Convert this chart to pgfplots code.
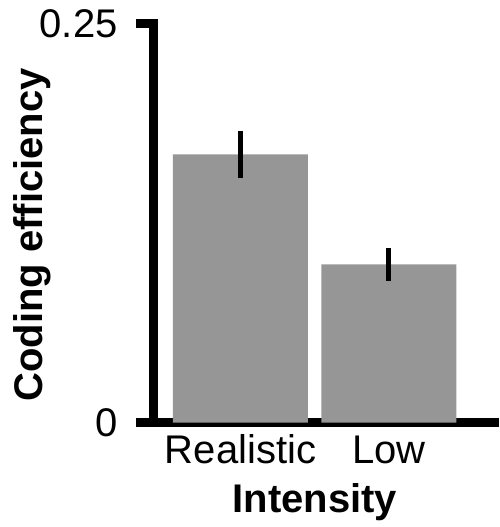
\documentclass[border=0pt]{standalone}
\usepackage{fontspec}
\setmainfont{Liberation Sans}
\usepackage{pgfplots}
\pgfplotsset{compat=1.18}
\definecolor{bargray}{RGB}{150,150,150}
\begin{document}
\begin{tikzpicture}
\begin{axis}[
  scale only axis,
  width=173pt, height=199.5pt,
  xmin=-0.589, xmax=1.741,
  ymin=0, ymax=0.25,
  axis lines*=left,
  axis line style={line width=4.5pt, black},
  y axis line style={line cap=rect},
  xtick={0,1},
  xticklabels={Realistic, Low},
  x tick style={draw=none},
  ytick={0,0.25},
  yticklabels={0, 0.25},
  y tick style={line width=4.5pt, black},
  tick align=outside,
  major tick length=8.5pt,
  tick label style={font=\fontsize{20}{24}\selectfont},
  xticklabel style={anchor=base, yshift=-12pt},
  yticklabel style={anchor=east, inner sep=0pt, xshift=-9pt},
  label style={font=\bfseries\fontsize{20}{24}\selectfont},
  xlabel={Intensity},
  ylabel={Coding efficiency},
  xlabel style={at={(axis description cs:0.468,-0.2268)}, anchor=base},
  ylabel style={at={(axis description cs:-0.3208,0.47)}, anchor=base},
  /pgf/number format/assume math mode=true,
]
  \addplot[ybar, bar width=67.5pt, fill=bargray, draw=none,
    error bars/.cd, y dir=both, y explicit, error mark=none,
    error bar style={line width=2.5pt, black}]
    coordinates {(0,0.168) +- (0,0.0145) (1,0.099) +- (0,0.0103)};
  \coordinate (bl) at (axis description cs:-0.4422,-0.2619);
  \coordinate (tr) at (axis description cs:1,1.0589);
\end{axis}
\pgfresetboundingbox
\useasboundingbox (bl) rectangle (tr);
\end{tikzpicture}
\end{document}
